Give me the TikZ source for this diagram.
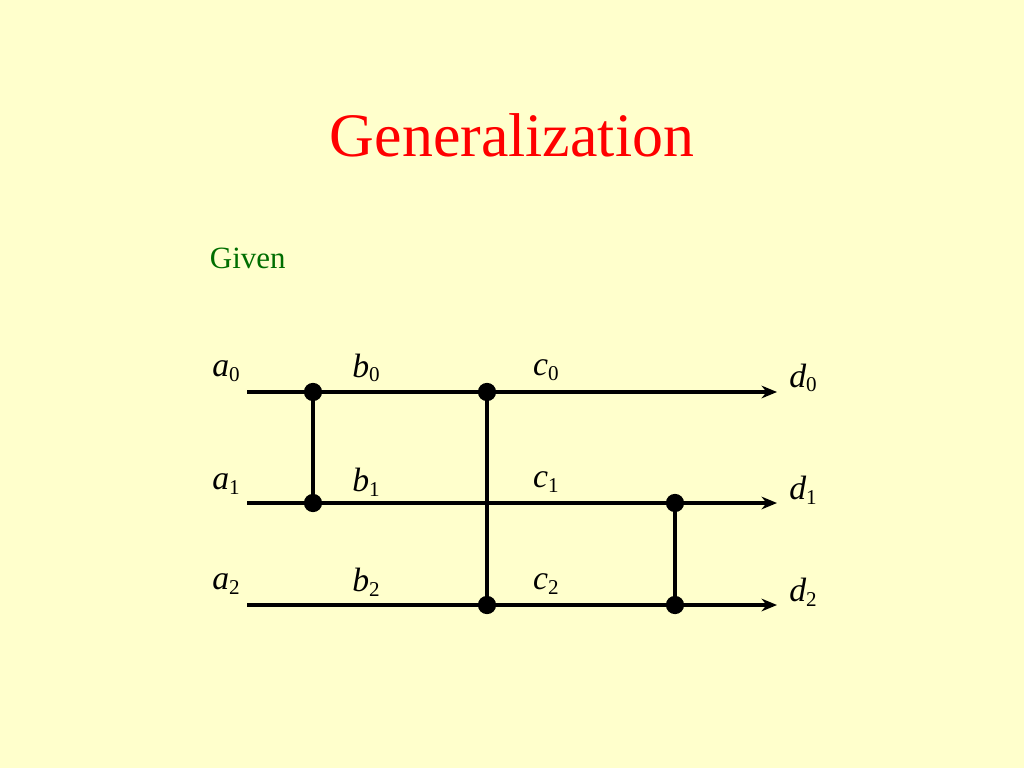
\documentclass[tikz,border=0pt]{standalone}
\usepackage{fontspec}
\setmainfont{Liberation Serif}
\usetikzlibrary{arrows.meta}
\definecolor{bgyellow}{RGB}{255,255,204}
\definecolor{givengreen}{RGB}{0,110,0}
\newcommand{\varsub}[2]{\textit{#1}\raisebox{-0.3ex}{\fontsize{15}{16}\selectfont #2}}
\tikzset{
  wire/.style={line width=2.2pt},
  dot/.style={circle,fill=black,inner sep=0pt,minimum size=13pt},
  lbl/.style={font=\fontsize{24}{26}\selectfont, inner sep=0pt}
}
\begin{document}
\begin{tikzpicture}[x=0.25mm,y=-0.25mm]
  \fill[bgyellow] (0,0) rectangle (1024,768);
  \useasboundingbox (0,0) rectangle (1024,768);

  \node[red, font=\fontsize{44}{48}\selectfont] (title) at (512,135) {Generalization};
  \node[givengreen, font=\fontsize{22}{24}\selectfont, anchor=west] (given) at (205,258) {Given};

  % wires
  \foreach \i/\y in {0/392,1/503,2/605} {
    \coordinate (s\i) at (247,\y);
    \coordinate (e\i) at (777,\y);
    \draw[wire,-{Stealth[length=11pt,width=9pt]}] (s\i) -- (e\i);
  }

  % dots
  \node[dot] (p1) at (313,392) {};
  \node[dot] (p2) at (313,503) {};
  \node[dot] (q1) at (487,392) {};
  \node[dot] (q2) at (487,605) {};
  \node[dot] (r1) at (675,503) {};
  \node[dot] (r2) at (675,605) {};
  \draw[wire] (p1) -- (p2);
  \draw[wire] (q1) -- (q2);
  \draw[wire] (r1) -- (r2);

  % labels
  \node[lbl] (a0) at (226,371) {\varsub{a}{0}};
  \node[lbl] (a1) at (226,484) {\varsub{a}{1}};
  \node[lbl] (a2) at (226,584) {\varsub{a}{2}};
  \node[lbl] (b0) at (366,368) {\varsub{b}{0}};
  \node[lbl] (b1) at (366,482) {\varsub{b}{1}};
  \node[lbl] (b2) at (366,582) {\varsub{b}{2}};
  \node[lbl] (c0) at (546,370) {\varsub{c}{0}};
  \node[lbl] (c1) at (546,482) {\varsub{c}{1}};
  \node[lbl] (c2) at (546,584) {\varsub{c}{2}};
  \node[lbl] (d0) at (803,378) {\varsub{d}{0}};
  \node[lbl] (d1) at (803,490) {\varsub{d}{1}};
  \node[lbl] (d2) at (803,592) {\varsub{d}{2}};
\end{tikzpicture}
\end{document}
